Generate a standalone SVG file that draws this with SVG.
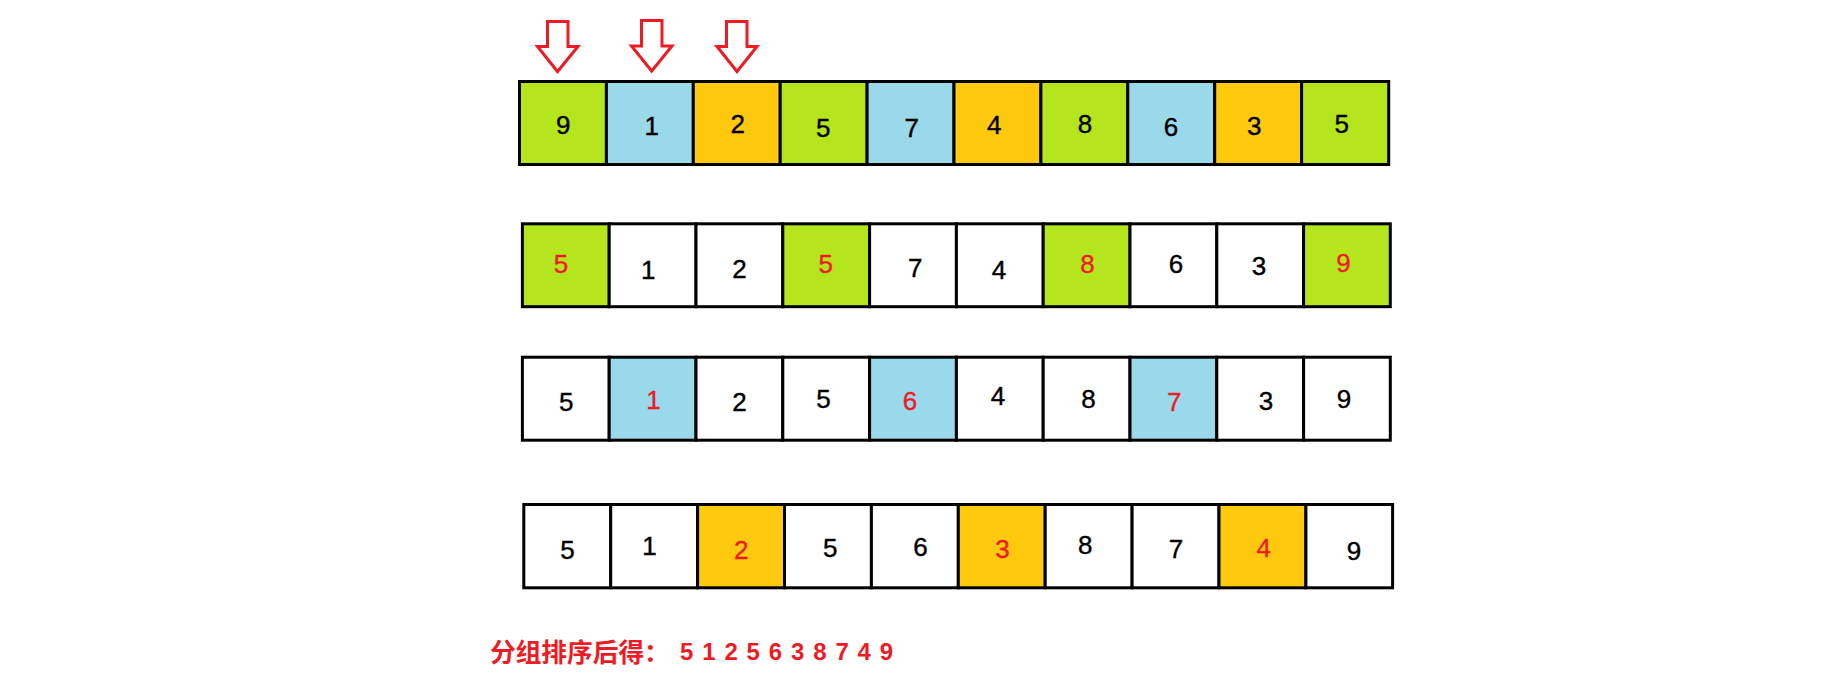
<svg xmlns="http://www.w3.org/2000/svg" width="1828" height="697" viewBox="0 0 1828 697">
<style>
.c{stroke:#000;stroke-width:3;fill:#fff}
.g{fill:#B5E61D}.b{fill:#99D9EA}.y{fill:#FFC90E}
.n{font-family:"Liberation Sans",Arial,sans-serif;font-size:26px;text-anchor:middle;fill:#000;stroke:#000;stroke-width:0.4}
.r{fill:#ED1C24;stroke:#ED1C24}
.arr{fill:none;stroke:#ED1C24;stroke-width:3;stroke-linejoin:miter}
.cap{font-family:"Noto Sans CJK SC","Noto Sans",sans-serif;font-size:25.7px;font-weight:bold;fill:#ED1C24}
.dig{font-family:"Liberation Sans",Arial,sans-serif;font-size:24px;font-weight:bold;fill:#ED1C24}
</style>
<rect width="1828" height="697" fill="#fff"/>
<g id="connectors">
<path class="arr" d="M547.5,21.5 H568 V46.5 H578 L557.5,71.5 L537.5,46.5 H547.5 Z"/>
<path class="arr" d="M641.5,20.5 H662 V46 H672 L651.7,71 L631.5,46 H641.5 Z"/>
<path class="arr" d="M726.5,21.5 H747 V46.5 H757 L737,71.5 L717,46.5 H726.5 Z"/>
</g>
<g id="row1">
<g id="r1c1"><rect class="c g" x="519.5" y="81.5" width="86.9" height="83"/><text class="n" x="563.3" y="134">9</text></g>
<g id="r1c2"><rect class="c b" x="606.4" y="81.5" width="86.9" height="83"/><text class="n" x="651.7" y="135">1</text></g>
<g id="r1c3"><rect class="c y" x="693.3" y="81.5" width="86.9" height="83"/><text class="n" x="737.7" y="132.7">2</text></g>
<g id="r1c4"><rect class="c g" x="780.2" y="81.5" width="86.9" height="83"/><text class="n" x="823.3" y="136.7">5</text></g>
<g id="r1c5"><rect class="c b" x="867.1" y="81.5" width="86.9" height="83"/><text class="n" x="911.7" y="136.5">7</text></g>
<g id="r1c6"><rect class="c y" x="954" y="81.5" width="86.9" height="83"/><text class="n" x="994.3" y="134">4</text></g>
<g id="r1c7"><rect class="c g" x="1040.9" y="81.5" width="86.9" height="83"/><text class="n" x="1085" y="132.7">8</text></g>
<g id="r1c8"><rect class="c b" x="1127.8" y="81.5" width="86.9" height="83"/><text class="n" x="1171" y="136">6</text></g>
<g id="r1c9"><rect class="c y" x="1214.7" y="81.5" width="86.9" height="83"/><text class="n" x="1254.3" y="135">3</text></g>
<g id="r1c10"><rect class="c g" x="1301.6" y="81.5" width="87.1" height="83"/><text class="n" x="1341.7" y="132.7">5</text></g>
</g>
<g id="row2">
<g id="r2c1"><rect class="c g" x="522.4" y="223.8" width="86.8" height="82.9"/><text class="n r" x="561" y="273.3">5</text></g>
<g id="r2c2"><rect class="c" x="609.2" y="223.8" width="86.8" height="82.9"/><text class="n" x="648.3" y="279">1</text></g>
<g id="r2c3"><rect class="c" x="696" y="223.8" width="86.8" height="82.9"/><text class="n" x="739.6" y="277.7">2</text></g>
<g id="r2c4"><rect class="c g" x="782.8" y="223.8" width="86.8" height="82.9"/><text class="n r" x="825.7" y="273.3">5</text></g>
<g id="r2c5"><rect class="c" x="869.6" y="223.8" width="86.8" height="82.9"/><text class="n" x="915.3" y="276.7">7</text></g>
<g id="r2c6"><rect class="c" x="956.4" y="223.8" width="86.8" height="82.9"/><text class="n" x="999" y="279.3">4</text></g>
<g id="r2c7"><rect class="c g" x="1043.2" y="223.8" width="86.8" height="82.9"/><text class="n r" x="1087.5" y="273.3">8</text></g>
<g id="r2c8"><rect class="c" x="1130" y="223.8" width="86.8" height="82.9"/><text class="n" x="1175.9" y="272.7">6</text></g>
<g id="r2c9"><rect class="c" x="1216.8" y="223.8" width="86.8" height="82.9"/><text class="n" x="1259" y="275">3</text></g>
<g id="r2c10"><rect class="c g" x="1303.6" y="223.8" width="86.7" height="82.9"/><text class="n r" x="1343.5" y="271.7">9</text></g>
</g>
<g id="row3">
<g id="r3c1"><rect class="c" x="522.4" y="357.2" width="86.8" height="83"/><text class="n" x="566.3" y="410.7">5</text></g>
<g id="r3c2"><rect class="c b" x="609.2" y="357.2" width="86.8" height="83"/><text class="n r" x="653.5" y="409">1</text></g>
<g id="r3c3"><rect class="c" x="696" y="357.2" width="86.8" height="83"/><text class="n" x="739.6" y="410.7">2</text></g>
<g id="r3c4"><rect class="c" x="782.8" y="357.2" width="86.8" height="83"/><text class="n" x="823.4" y="408.3">5</text></g>
<g id="r3c5"><rect class="c b" x="869.6" y="357.2" width="86.8" height="83"/><text class="n r" x="910" y="410">6</text></g>
<g id="r3c6"><rect class="c" x="956.4" y="357.2" width="86.8" height="83"/><text class="n" x="998" y="405">4</text></g>
<g id="r3c7"><rect class="c" x="1043.2" y="357.2" width="86.8" height="83"/><text class="n" x="1088.6" y="408.3">8</text></g>
<g id="r3c8"><rect class="c b" x="1130" y="357.2" width="86.8" height="83"/><text class="n r" x="1174.2" y="411">7</text></g>
<g id="r3c9"><rect class="c" x="1216.8" y="357.2" width="86.8" height="83"/><text class="n" x="1266" y="410">3</text></g>
<g id="r3c10"><rect class="c" x="1303.6" y="357.2" width="86.7" height="83"/><text class="n" x="1344" y="407.7">9</text></g>
</g>
<g id="row4">
<g id="r4c1"><rect class="c" x="523.8" y="504.5" width="86.9" height="83.3"/><text class="n" x="567.4" y="559">5</text></g>
<g id="r4c2"><rect class="c" x="610.7" y="504.5" width="86.9" height="83.3"/><text class="n" x="649.5" y="555">1</text></g>
<g id="r4c3"><rect class="c y" x="697.6" y="504.5" width="86.9" height="83.3"/><text class="n r" x="741.3" y="559.3">2</text></g>
<g id="r4c4"><rect class="c" x="784.5" y="504.5" width="86.9" height="83.3"/><text class="n" x="830.3" y="556.7">5</text></g>
<g id="r4c5"><rect class="c" x="871.4" y="504.5" width="86.9" height="83.3"/><text class="n" x="920.4" y="556">6</text></g>
<g id="r4c6"><rect class="c y" x="958.3" y="504.5" width="86.9" height="83.3"/><text class="n r" x="1002.5" y="558.3">3</text></g>
<g id="r4c7"><rect class="c" x="1045.2" y="504.5" width="86.9" height="83.3"/><text class="n" x="1085.2" y="554.3">8</text></g>
<g id="r4c8"><rect class="c" x="1132.1" y="504.5" width="86.9" height="83.3"/><text class="n" x="1175.9" y="558.3">7</text></g>
<g id="r4c9"><rect class="c y" x="1219" y="504.5" width="86.9" height="83.3"/><text class="n r" x="1263.7" y="556.7">4</text></g>
<g id="r4c10"><rect class="c" x="1305.9" y="504.5" width="86.7" height="83.3"/><text class="n" x="1353.9" y="560">9</text></g>
</g>
<g id="result">
<text class="cap" x="490" y="661.5">分组排序后得：</text>
<text class="dig" y="660"><tspan x="680">5</tspan><tspan x="702.2">1</tspan><tspan x="724.4">2</tspan><tspan x="746.6">5</tspan><tspan x="768.8">6</tspan><tspan x="791">3</tspan><tspan x="813.2">8</tspan><tspan x="835.4">7</tspan><tspan x="857.6">4</tspan><tspan x="879.8">9</tspan></text>
</g>
</svg>
